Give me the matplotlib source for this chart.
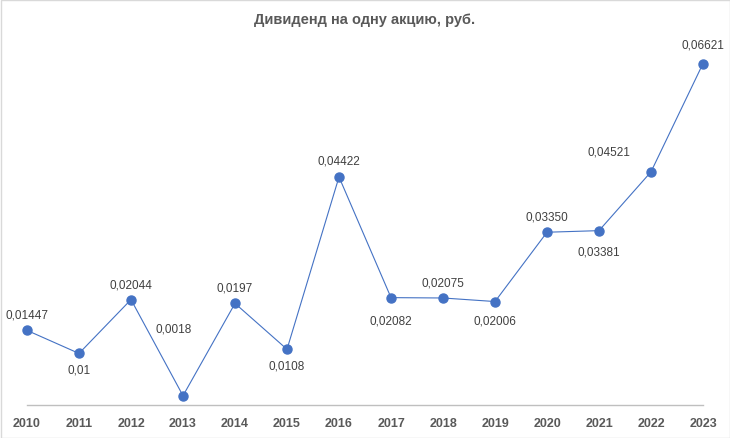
import matplotlib
matplotlib.use("Agg")
import matplotlib.pyplot as plt
from matplotlib.patches import Rectangle

# данные
years = [2010, 2011, 2012, 2013, 2014, 2015, 2016, 2017, 2018, 2019, 2020, 2021, 2022, 2023]
dividend = [0.01447, 0.01, 0.02044, 0.0018, 0.0197, 0.0108, 0.04422,
            0.02082, 0.02075, 0.02006, 0.03350, 0.03381, 0.04521, 0.06621]
labels = ["0,01447", "0,01", "0,02044", "0,0018", "0,0197", "0,0108", "0,04422",
          "0,02082", "0,02075", "0,02006", "0,03350", "0,03381", "0,04521", "0,06621"]
# смещения подписей, пиксели (dx, dy)
offsets = [(0, 16), (0, -16), (0, 15), (-9, 67), (0, 16), (0, -16), (0, 16),
           (0, -23), (0, 15), (0, -19), (0, 16), (0, -21), (-42, 20), (0, 19)]

plt.rcParams["font.family"] = ["Liberation Sans Narrow", "Liberation Sans", "DejaVu Sans"]
GRAY = "#595959"
BLUE = "#4472C4"

fig = plt.figure(figsize=(7.3, 4.39), dpi=100)
ax = fig.add_axes([27 / 730, 33 / 439, 676 / 730, 361 / 439])

x = list(range(len(years)))
ax.plot(x, dividend, color=BLUE, lw=0.8, marker="o", ms=6.5, mfc=BLUE, mec=BLUE)
for xi, yi, lab, (dx, dy) in zip(x, dividend, labels, offsets):
    ax.annotate(lab, (xi, yi), xytext=(dx, dy), textcoords="offset pixels",
                ha="center", va="center", fontsize=8.5, color="#404040",
                family=["Liberation Sans", "DejaVu Sans"])

ax.set_xlim(0, len(years) - 1)
ax.set_ylim(0, 0.07)
ax.set_xticks(x)
ax.set_xticklabels([str(y) for y in years], fontsize=9, fontweight="bold", color=GRAY)
ax.tick_params(axis="x", length=0, pad=9)
ax.set_yticks([])
for s in ["top", "right", "left"]:
    ax.spines[s].set_visible(False)
ax.spines["bottom"].set_color("#BFBFBF")
ax.spines["bottom"].set_linewidth(1)
ax.set_clip_on(False)
for ln in ax.lines:
    ln.set_clip_on(False)

fig.text(0.5, 1 - 20 / 439, "Дивиденд на одну акцию, руб.", ha="center", va="center",
         fontsize=10.5, fontweight="bold", color=GRAY)
fig.patches.append(Rectangle((0.5 / 730, 0.5 / 439), 729 / 730, 438 / 439, transform=fig.transFigure,
                             fill=False, edgecolor="#D9D9D9", lw=1))

fig.savefig("out.png", dpi=100)
